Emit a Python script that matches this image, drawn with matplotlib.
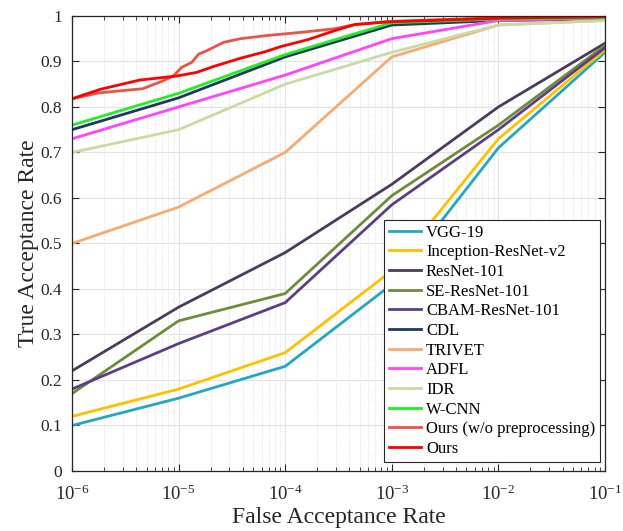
import matplotlib
matplotlib.use("Agg")
import matplotlib.pyplot as plt
from matplotlib.ticker import LogLocator, NullFormatter

plt.rcParams['font.family'] = ['Liberation Serif', 'DejaVu Serif']
plt.rcParams['mathtext.fontset'] = 'custom'
plt.rcParams['mathtext.rm'] = 'Liberation Serif'
plt.rcParams['mathtext.it'] = 'Liberation Serif:italic'
plt.rcParams['axes.unicode_minus'] = False

# False acceptance rates shared by the baseline methods
far = [1e-6, 1e-5, 1e-4, 1e-3, 1e-2, 1e-1]

vgg19 = [0.10, 0.16, 0.23, 0.41, 0.71, 0.92]
inception = [0.12, 0.18, 0.26, 0.44, 0.73, 0.925]
resnet101 = [0.22, 0.36, 0.48, 0.63, 0.80, 0.94]
se_resnet = [0.17, 0.33, 0.39, 0.605, 0.76, 0.935]
cbam_resnet = [0.18, 0.28, 0.37, 0.585, 0.75, 0.93]
cdl = [0.75, 0.82, 0.91, 0.98, 0.99, 0.993]
trivet = [0.50, 0.58, 0.70, 0.91, 0.98, 0.99]
adfl = [0.73, 0.80, 0.87, 0.95, 0.99, 0.995]
idr = [0.70, 0.75, 0.85, 0.92, 0.98, 0.99]
wcnn = [0.76, 0.83, 0.915, 0.985, 0.993, 0.996]

# our methods are sampled more densely
far_nopre = [1e-6, 1.79e-6, 4.6e-6, 7.1e-6, 8.9e-6, 1.07e-5, 1.33e-5, 1.54e-5,
             1.85e-5, 2.65e-5, 3.8e-5, 6.8e-5, 1.42e-4, 2.94e-4, 4.5e-4,
             9.4e-4, 1e-2, 1e-1]
ours_nopre = [0.818, 0.831, 0.840, 0.857, 0.868, 0.887, 0.898, 0.916,
              0.924, 0.942, 0.950, 0.957, 0.964, 0.972, 0.981,
              0.988, 0.996, 0.999]
far_ours = [1e-6, 1.86e-6, 4.3e-6, 9.6e-6, 1.48e-5, 2.13e-5, 3.8e-5, 6.4e-5,
            9.2e-5, 1.64e-4, 2.94e-4, 4.5e-4, 9.4e-4, 1e-2, 1e-1]
ours = [0.818, 0.839, 0.859, 0.868, 0.876, 0.889, 0.907, 0.921,
        0.933, 0.948, 0.968, 0.981, 0.987, 0.995, 0.998]

yticks = [0, 0.1, 0.2, 0.3, 0.4, 0.5, 0.6, 0.7, 0.8, 0.9, 1]
ytick_labels = ['0', '0.1', '0.2', '0.3', '0.4', '0.5', '0.6', '0.7', '0.8', '0.9', '1']

fig = plt.figure(figsize=(6.23, 5.31), dpi=100)
ax = fig.add_axes([0.1156, 0.113, 0.8555, 0.857])

lw = 2.0
ax.plot(far, vgg19, color='#22A7C4', lw=lw, label='VGG-19')
ax.plot(far, inception, color='#FFC000', lw=lw, label='Inception-ResNet-v2')
ax.plot(far, resnet101, color='#4D3B5C', lw=lw, label='ResNet-101')
ax.plot(far, se_resnet, color='#6F8C3A', lw=lw, label='SE-ResNet-101')
ax.plot(far, cbam_resnet, color='#5C3E88', lw=lw, label='CBAM-ResNet-101')
ax.plot(far, cdl, color='#1C3A5E', lw=lw, label='CDL')
ax.plot(far, trivet, color='#F9AA70', lw=lw, label='TRIVET')
ax.plot(far, adfl, color='#FF44FF', lw=lw, label='ADFL')
ax.plot(far, idr, color='#C9DAA6', lw=lw, label='IDR')
ax.plot(far, wcnn, color='#22EE22', lw=lw, label='W-CNN')
ax.plot(far_nopre, ours_nopre, color='#E85545', lw=lw, label='Ours (w/o preprocessing)')
ax.plot(far_ours, ours, color='#FF0000', lw=lw, label='Ours')

ax.set_xscale('log')
ax.set_xlim(1e-6, 1e-1)
ax.set_ylim(0, 1)
ax.set_yticks(yticks)
ax.set_yticklabels(ytick_labels)
ax.xaxis.set_major_locator(LogLocator(base=10, numticks=10))
ax.xaxis.set_minor_locator(LogLocator(base=10, subs=range(2, 10), numticks=20))
ax.xaxis.set_minor_formatter(NullFormatter())

ax.grid(True, which='major', color='#E3E3E3', lw=0.8, ls='-')
ax.grid(True, which='minor', axis='x', color='#D8D8D8', lw=0.6, ls=':')
ax.set_axisbelow(True)

for s in ax.spines.values():
    s.set_color('#262626')
    s.set_linewidth(0.9)
ax.tick_params(which='both', direction='in', top=True, right=True, colors='#262626')
ax.tick_params(which='major', length=5)
ax.tick_params(which='minor', length=3)
ax.tick_params(axis='y', which='major', labelsize=12.5, pad=7)
ax.tick_params(axis='x', which='major', labelsize=13.5, pad=10)

ax.set_xlabel('False Acceptance Rate', fontsize=17, color='#262626', labelpad=2)
ax.set_ylabel('True Acceptance Rate', fontsize=17, color='#262626', labelpad=1)

leg = ax.legend(loc='lower right', bbox_to_anchor=(0.991, 0.02), borderaxespad=0,
                fontsize=12, frameon=True, fancybox=False,
                edgecolor='#262626', framealpha=1,
                labelspacing=0.22, handlelength=1.9, handletextpad=0.3,
                borderpad=0.3)
leg.get_frame().set_linewidth(0.8)

fig.savefig('out.png', dpi=100)
